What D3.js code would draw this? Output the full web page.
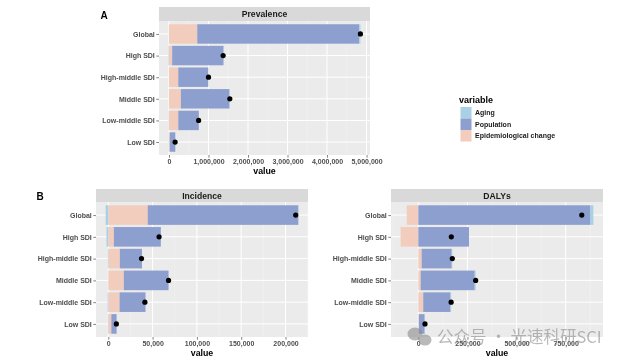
<!DOCTYPE html>
<html><head><meta charset="utf-8">
<script src="https://cdn.jsdelivr.net/npm/d3@7"></script>
<style>
body{margin:0;background:#fff;}
#wrap{will-change:transform;width:628px;height:363px;}
svg{display:block;font-family:"Liberation Sans",Arial,sans-serif;}
</style></head>
<body>
<div id="wrap"><svg id="chart" width="628" height="363"></svg></div>
<script>
// ---------------- DATA ----------------
const categories = ["Global","High SDI","High-middle SDI","Middle SDI","Low-middle SDI","Low SDI"];
const variables = ["Aging","Population","Epidemiological change"];
const colors = ["#A9D0E4","#8D9FCF","#F2CDBD"];

// Prevalence
const prevAging = [30000,-10000,10000,10000,-5000,-5000];
const prevPopulation = [4100000,1300000,755000,1230000,520000,140000];
const prevEpi = [715000,80000,235000,300000,235000,20000];
const prevOverall = [4845000,1370000,1000000,1540000,750000,155000];
const prevTicks = [0,1000000,2000000,3000000,4000000,5000000];

// Incidence
const incAging = [-3000,-2000,-500,0,-700,-300];
const incPopulation = [170000,53000,25000,50500,29300,6000];
const incEpi = [44500,6300,13000,17500,12700,3400];
const incOverall = [211500,57300,37500,68000,41300,9100];
const incTicks = [0,50000,100000,150000,200000];

// DALYs
const dalyAging = [17000,0,3000,5000,3000,2000];
const dalyPopulation = [874000,258000,153000,275000,139000,29000];
const dalyEpi = [-59000,-90000,17000,12000,25000,3000];
const dalyOverall = [832000,168000,173000,292000,167000,34000];
const dalyTicks = [0,250000,500000,750000];

// ---------------- DRAW ----------------
const svg = d3.select("#chart");
const fmt = d3.format(",");
const AXIS_COL = "#4D4D4D";

function drawPanel(cfg){
  const {title, x0, x1, yTop, stripH, panelBottom, aging, pop, epi, overall, ticks} = cfg;
  const seriesByVar = {"Aging":aging,"Population":pop,"Epidemiological change":epi};
  // stacking order from zero outward: Epi, Population, Aging
  const stackOrder = ["Epidemiological change","Population","Aging"];
  const rects = [];
  let dmin = 0, dmax = 0;
  categories.forEach((c,i)=>{
    let pos = 0, neg = 0;
    stackOrder.forEach(v=>{
      const val = seriesByVar[v][i];
      if(val >= 0){ rects.push({c, v, a:pos, b:pos+val}); pos += val; }
      else { rects.push({c, v, a:neg+val, b:neg}); neg += val; }
    });
    dmin = Math.min(dmin, neg, overall[i]);
    dmax = Math.max(dmax, pos, overall[i]);
  });
  const span = dmax - dmin;
  const x = d3.scaleLinear().domain([dmin - 0.05*span, dmax + 0.05*span]).range([x0, x1]);
  const pTop = yTop + stripH;
  const n = categories.length;
  const step = (panelBottom - pTop) / (n - 1 + 1.2);
  const y = d3.scalePoint().domain(categories).range([pTop + 0.6*step, panelBottom - 0.6*step]);
  const bw = 0.9 * step;

  const g = svg.append("g");
  // strip
  g.append("rect").attr("x",x0).attr("y",yTop).attr("width",x1-x0).attr("height",stripH).attr("fill","#D9D9D9");
  g.append("text").attr("x",(x0+x1)/2).attr("y",yTop+stripH/2).attr("dy","0.35em")
    .attr("text-anchor","middle").attr("font-size",8.6).attr("font-weight","bold").attr("fill","#1A1A1A").text(title);
  // panel bg
  g.append("rect").attr("x",x0).attr("y",pTop).attr("width",x1-x0).attr("height",panelBottom-pTop).attr("fill","#EBEBEB");
  // minor grid
  const dom = x.domain();
  const stepT = ticks[1]-ticks[0];
  const minor = [];
  for(let t = ticks[0] - stepT/2; t <= dom[1]; t += stepT){ if(t >= dom[0]) minor.push(t); }
  g.selectAll(".mg").data(minor).join("line")
    .attr("x1",d=>x(d)).attr("x2",d=>x(d)).attr("y1",pTop).attr("y2",panelBottom)
    .attr("stroke","#F5F5F5").attr("stroke-width",0.5);
  // major grid
  g.selectAll(".Mg").data(ticks).join("line")
    .attr("x1",d=>x(d)).attr("x2",d=>x(d)).attr("y1",pTop).attr("y2",panelBottom)
    .attr("stroke","#FFFFFF").attr("stroke-width",1);
  g.selectAll(".Mgy").data(categories).join("line")
    .attr("x1",x0).attr("x2",x1).attr("y1",d=>y(d)).attr("y2",d=>y(d))
    .attr("stroke","#FFFFFF").attr("stroke-width",1);
  // bars
  g.selectAll(".bar").data(rects).join("rect")
    .attr("x",d=>x(d.a)).attr("width",d=>Math.max(0,x(d.b)-x(d.a)))
    .attr("y",d=>y(d.c)-bw/2).attr("height",bw)
    .attr("fill",d=>colors[variables.indexOf(d.v)]);
  // dots
  g.selectAll(".dot").data(categories).join("circle")
    .attr("cx",(d,i)=>x(overall[i])).attr("cy",d=>y(d)).attr("r",2.6).attr("fill","#000");
  // x axis
  const xa = g.append("g").attr("transform",`translate(0,${panelBottom})`)
    .call(d3.axisBottom(x).tickValues(ticks).tickFormat(fmt).tickSize(2.7).tickPadding(1.5));
  xa.select(".domain").remove();
  xa.selectAll("line").attr("stroke","#333").attr("stroke-width",0.6);
  xa.selectAll("text").attr("font-size",7).attr("fill",AXIS_COL).attr("font-weight","bold")
    .attr("font-family","'Liberation Sans',Arial,sans-serif");
  g.append("text").attr("x",(x0+x1)/2).attr("y",panelBottom+19).attr("text-anchor","middle")
    .attr("font-size",8.8).attr("font-weight","bold").attr("fill","#000").text("value");
  // y axis
  const ya = g.append("g").attr("transform",`translate(${x0},0)`)
    .call(d3.axisLeft(y).tickSize(2.7).tickPadding(1.5));
  ya.select(".domain").remove();
  ya.selectAll("line").attr("stroke","#333").attr("stroke-width",0.6);
  ya.selectAll("text").attr("font-size",7).attr("fill",AXIS_COL).attr("font-weight","bold")
    .attr("font-family","'Liberation Sans',Arial,sans-serif");
}

drawPanel({title:"Prevalence", x0:159, x1:370, yTop:7, stripH:14, panelBottom:155,
  aging:prevAging, pop:prevPopulation, epi:prevEpi, overall:prevOverall, ticks:prevTicks});
drawPanel({title:"Incidence", x0:96, x1:308, yTop:189, stripH:13, panelBottom:337,
  aging:incAging, pop:incPopulation, epi:incEpi, overall:incOverall, ticks:incTicks});
drawPanel({title:"DALYs", x0:391, x1:603, yTop:189, stripH:13, panelBottom:337,
  aging:dalyAging, pop:dalyPopulation, epi:dalyEpi, overall:dalyOverall, ticks:dalyTicks});

// panel tags
svg.append("text").attr("x",104).attr("y",15).attr("dy","0.35em").attr("text-anchor","middle")
  .attr("font-size",10).attr("font-weight","bold").text("A");
svg.append("text").attr("x",40).attr("y",196).attr("dy","0.35em").attr("text-anchor","middle")
  .attr("font-size",10).attr("font-weight","bold").text("B");

// legend
const lg = svg.append("g");
lg.append("text").attr("x",459).attr("y",100).attr("dy","0.35em").attr("font-size",9)
  .attr("font-weight","bold").attr("fill","#000").text("variable");
variables.forEach((v,i)=>{
  lg.append("rect").attr("x",460.5).attr("y",107+i*11.5).attr("width",11).attr("height",11.5)
    .attr("fill",colors[i]);
  lg.append("text").attr("x",475).attr("y",107+i*11.5+5.8).attr("dy","0.35em")
    .attr("font-size",7).attr("font-weight","bold").attr("fill","#1A1A1A").text(v);
});

// watermark
const wm = svg.append("g").attr("opacity",0.6);
wm.append("ellipse").attr("cx",415).attr("cy",334).attr("rx",7.5).attr("ry",6.5).attr("fill","#8A8A8A");
wm.append("ellipse").attr("cx",425).attr("cy",340).attr("rx",6.5).attr("ry",5.5).attr("fill","#8A8A8A");
wm.append("text").attr("x",437).attr("y",337).attr("dy","0.35em").attr("font-size",16.5)
  .attr("fill","#8A8A8A").attr("font-family","'Noto Sans CJK SC',sans-serif")
  .text("公众号 · 光速科研SCI");
</script>
</body></html>
